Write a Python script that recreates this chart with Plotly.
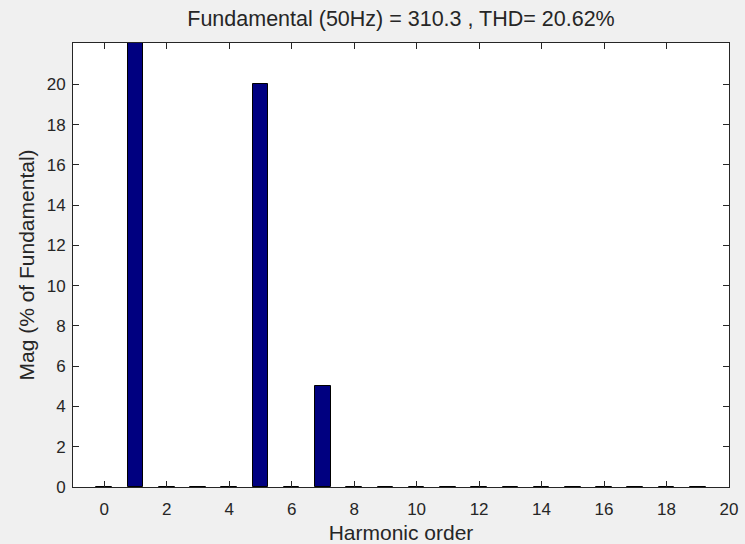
import plotly.graph_objects as go

harmonic_order = [0, 1, 2, 3, 4, 5, 6, 7, 8, 9, 10, 11, 12, 13, 14, 15, 16, 17, 18, 19]
mag_percent = [0.01, 100.0, 0.01, 0.01, 0.01, 20.0, 0.01, 5.0, 0.01, 0.01,
               0.01, 0.01, 0.01, 0.01, 0.01, 0.01, 0.01, 0.01, 0.01, 0.01]
x_ticks = [0, 2, 4, 6, 8, 10, 12, 14, 16, 18, 20]
y_ticks = [0, 2, 4, 6, 8, 10, 12, 14, 16, 18, 20]

title_text = "Fundamental (50Hz) = 310.3 , THD= 20.62%"
FONT = "Liberation Sans, Arial, Helvetica, sans-serif"
TXT = "#262626"

fig = go.Figure()
fig.add_trace(go.Bar(
    x=harmonic_order,
    y=mag_percent,
    width=0.5,
    marker=dict(color="#000080", line=dict(color="#000000", width=1)),
    showlegend=False,
))

fig.update_layout(
    width=745, height=544,
    margin=dict(l=73, r=16, t=43, b=57, autoexpand=False),
    paper_bgcolor="#f0f0f0",
    plot_bgcolor="#ffffff",
    font=dict(family=FONT, color=TXT),
    title=dict(text=title_text, x=0.5, xref="paper", xanchor="center",
               y=1 - 18 / 544, yref="container", yanchor="middle",
               font=dict(size=21.5, color=TXT, family=FONT)),
    bargap=0,
)

fig.update_xaxes(
    range=[-1, 20], tickvals=x_ticks, ticktext=[str(v) for v in x_ticks],
    ticks="inside", ticklen=6, tickwidth=1, tickcolor=TXT,
    showline=True, linecolor=TXT, linewidth=1, mirror="allticks",
    showgrid=False, zeroline=False,
    tickfont=dict(size=17, color=TXT, family=FONT),
    ticklabelstandoff=7,
    title=dict(text="Harmonic order", font=dict(size=21, color=TXT, family=FONT), standoff=16),
)
fig.update_yaxes(
    range=[0, 22.05], tickvals=y_ticks, ticktext=[str(v) for v in y_ticks],
    ticks="inside", ticklen=6, tickwidth=1, tickcolor=TXT,
    showline=True, linecolor=TXT, linewidth=1, mirror="allticks",
    showgrid=False, zeroline=False,
    tickfont=dict(size=17, color=TXT, family=FONT),
    ticklabelstandoff=3,
    title=dict(text="Mag (% of Fundamental)", font=dict(size=21, color=TXT, family=FONT), standoff=6),
)

fig.write_html(
    "out.html",
    config={"displayModeBar": False},
    post_script="document.body.style.margin='0';document.body.style.background='#f0f0f0';",
)
